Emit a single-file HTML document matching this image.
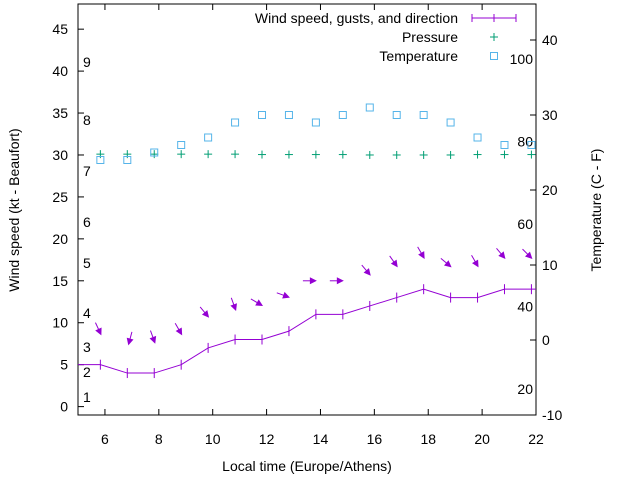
<!DOCTYPE html>
<html><head><meta charset="utf-8"><style>
body{margin:0;background:#fff}
svg{display:block;font-family:"Liberation Sans",sans-serif}
</style></head><body>
<svg id="c" width="640" height="480"></svg>
<script>
const hours=[5.83,6.83,7.83,8.83,9.83,10.83,11.83,12.83,13.83,14.83,15.83,16.83,17.83,18.83,19.83,20.83,21.83];
const windSpeed=[5,4,4,5,7,8,8,9,11,11,12,13,14,13,13,14,14];
const gusts=[8.5,7.3,7.5,8.5,10.6,11.4,12,13,15,15,15.6,16.6,17.6,16.6,16.6,17.6,17.6];
const windDir=[335,15,340,330,320,340,300,290,270,270,320,325,330,310,330,320,315];
const pressure=[30.1,30.1,30.1,30.1,30.1,30.1,30.05,30.05,30.05,30.05,30,30,30,30,30.05,30.05,30.05];
const tempC=[24,24,25,26,27,29,30,30,29,30,31,30,30,29,27,26,26];
const xTicks=[6,8,10,12,14,16,18,20,22];
const yTicks=[0,5,10,15,20,25,30,35,40,45];
const y2Ticks=[-10,0,10,20,30,40];
const beaufort=[[1,397],[2,372],[3,347],[4,313],[5,263],[6,222],[7,171],[8,120],[9,62]];
const fahr=[[20,-6.5],[40,4.5],[60,15.5],[80,26.5],[100,37.5]];
const L=78,R=536,T=4,B=415;
const X=v=>L+(v-5)/(22-5)*(R-L);
const Y=v=>B-(v+1)/49*(B-T);
const Y2=v=>B-(v+10)/54.8*(B-T);
const svg=document.getElementById('c');const NS='http://www.w3.org/2000/svg';
function el(t,a,p){const e=document.createElementNS(NS,t);for(const k in a)e.setAttribute(k,a[k]);(p||svg).appendChild(e);return e;}
function txt(x,y,s,anchor,name,extra){const e=el('text',Object.assign({x:x,y:y,'font-size':14,fill:'#000','text-anchor':anchor||'start'},extra||{}));e.textContent=s;

return e;}
const frame=el('rect',{x:L,y:T,width:R-L,height:B-T,fill:'none',stroke:'#000','stroke-width':1});


xTicks.forEach(v=>{const x=X(v);el('line',{x1:x,y1:B,x2:x,y2:B-6,stroke:'#000'});el('line',{x1:x,y1:T,x2:x,y2:T+6,stroke:'#000'});txt(x,444,String(v),'middle','x-tick-label');});
yTicks.forEach(v=>{const y=Y(v);el('line',{x1:L,y1:y,x2:L+6,y2:y,stroke:'#000'});txt(L-10,y+5,String(v),'end','y-tick-label');});
y2Ticks.forEach(v=>{const y=Y2(v);el('line',{x1:R,y1:y,x2:R-6,y2:y,stroke:'#000'});txt(R+6,y+5,String(v),'start','y2-tick-label');});
beaufort.forEach(b=>txt(83,b[1]+5,String(b[0]),'start','beaufort-label'));
fahr.forEach(f=>txt(533,Y2(f[1])+5,String(f[0]),'end','fahrenheit-label'));
txt(307,471,'Local time (Europe/Athens)','middle','x-axis-title');
txt(0,0,'Wind speed (kt - Beaufort)','middle','y-axis-title',{transform:'translate(19,210) rotate(-90)'});
txt(0,0,'Temperature (C - F)','middle','y2-axis-title',{transform:'translate(601,210) rotate(-90)'});
// wind line
let d='M'+L+','+Y(windSpeed[0]);hours.forEach((h,i)=>d+=' L'+X(h)+','+Y(windSpeed[i]));d+=' L'+R+','+Y(windSpeed[windSpeed.length-1]);
const wl=el('path',{d:d,fill:'none',stroke:'#9400d3','stroke-width':1});


hours.forEach((h,i)=>{const p=el('line',{x1:X(h),y1:Y(windSpeed[i])-5,x2:X(h),y2:Y(windSpeed[i])+5,stroke:'#9400d3'});

});
// gust arrows
hours.forEach((h,i)=>{const tx=X(h)+1,ty=Y(gusts[i]);const a=windDir[i]*Math.PI/180;const dx=-Math.sin(a),dy=Math.cos(a);
const sx=tx-dx*14,sy=ty-dy*14;const g=el('g',{});


el('line',{x1:sx,y1:sy,x2:tx-dx*4,y2:ty-dy*4,stroke:'#9400d3'},g);
const px=-dy,py=dx;el('polygon',{points:`${tx},${ty} ${tx-dx*7+px*3.5},${ty-dy*7+py*3.5} ${tx-dx*7-px*3.5},${ty-dy*7-py*3.5}`,fill:'#9400d3'},g);});
// pressure
hours.forEach((h,i)=>{const x=X(h),y=Y(pressure[i]);const g=el('g',{stroke:'#009e73'});


el('line',{x1:x-4,y1:y,x2:x+4,y2:y},g);el('line',{x1:x,y1:y-4,x2:x,y2:y+4},g);});
// temperature
hours.forEach((h,i)=>{const r=el('rect',{x:X(h)-3.5,y:Y2(tempC[i])-3.5,width:7,height:7,fill:'none',stroke:'#56b4e9'});

});
// legend
txt(458,23,'Wind speed, gusts, and direction','end','legend-wind');
el('line',{x1:472,y1:18,x2:516,y2:18,stroke:'#9400d3'});
[472,494,516].forEach(x=>el('line',{x1:x,y1:14,x2:x,y2:22,stroke:'#9400d3'}));
txt(458,42,'Pressure','end','legend-pressure');
el('line',{x1:490,y1:37,x2:498,y2:37,stroke:'#009e73'});el('line',{x1:494,y1:33,x2:494,y2:41,stroke:'#009e73'});
txt(458,61,'Temperature','end','legend-temperature');
el('rect',{x:490.5,y:52.5,width:7,height:7,fill:'none',stroke:'#56b4e9'});
</script>
</body></html>
